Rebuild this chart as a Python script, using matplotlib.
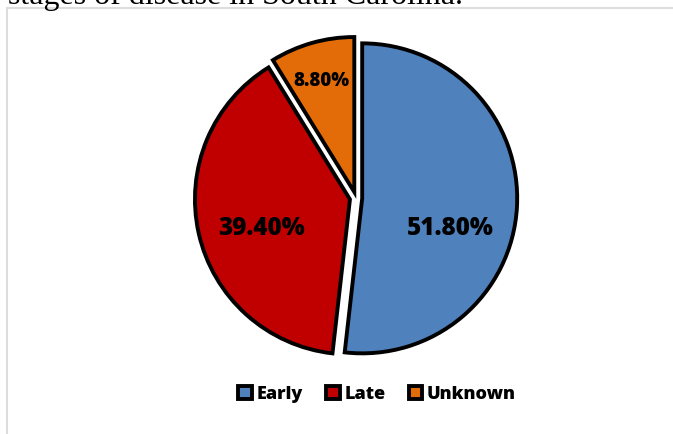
import matplotlib.pyplot as plt
from matplotlib.patches import Rectangle

# data
labels = ['Early', 'Late', 'Unknown']
values = [51.8, 39.4, 8.8]
colors = ['#4F81BD', '#C00000', '#E36C09']
explode = [0.04, 0.04, 0.04]

W, H = 673, 435
cx, cy = 356, 199  # pie centre in pixels (from top-left)
r = 155.0          # pie radius in pixels

fig = plt.figure(figsize=(W / 100, H / 100), dpi=100)
ax = fig.add_axes([0, 0, 1, 1])

wedges, texts, autotexts = ax.pie(values, colors=colors, explode=explode,
                                  startangle=90, counterclock=False,
                                  autopct='%.2f%%',
                                  wedgeprops=dict(edgecolor='black', linewidth=2.8),
                                  textprops=dict(family='Open Sans', fontweight='heavy',
                                                 color='black'))

ax.set_xlim(-cx / r, (W - cx) / r)
ax.set_ylim(-(H - cy) / r, cy / r)
ax.set_aspect('equal')
ax.axis('off')

# label placement (layout only)
lab_pos = [(0.61, -0.19), (-0.61, -0.19), (-0.22, 0.76)]
lab_size = [17.5, 17.5, 13.5]
for t, p, s in zip(autotexts, lab_pos, lab_size):
    t.set_position(p)
    t.set_fontsize(s)

# chart border box
fig.patches.append(Rectangle((7 / W, -0.1), 1.0, (H - 8.5) / H + 0.1,
                             transform=fig.transFigure, fill=False,
                             edgecolor='#DDDDDD', linewidth=1.5))

# cut-off caption above the chart
fig.text(8 / W, 1 - 4 / H, 'stages of disease in South Carolina.',
         family='Liberation Serif', fontsize=23, va='baseline', ha='left')

leg = ax.legend(wedges, labels, loc='center', bbox_to_anchor=(377 / W, 1 - 395 / H),
                bbox_transform=fig.transFigure, ncol=3, frameon=False,
                prop=dict(family='Open Sans', weight='heavy', size=13),
                handlelength=0.75, handleheight=0.75, handletextpad=0.25,
                columnspacing=1.3)

fig.savefig('out.png', dpi=100)
